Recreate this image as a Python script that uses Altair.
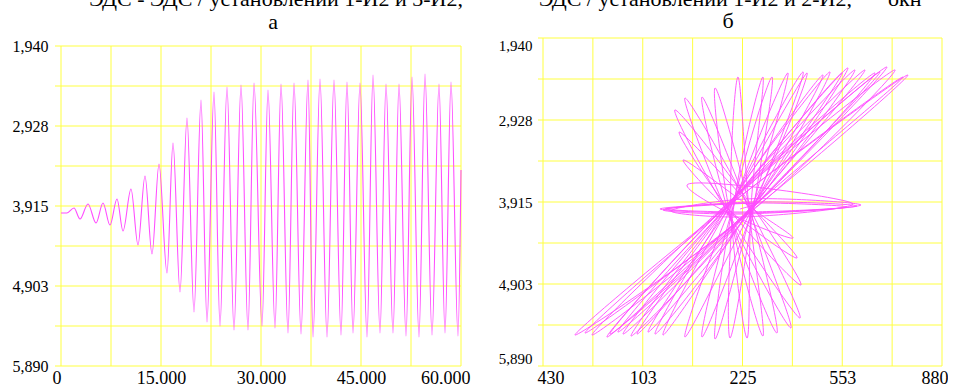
import altair as alt
import pandas as pd

# ---------------- data ----------------
# panel "а": time series (turning points)
time_a = [0, 900, 1950, 2850, 4050, 5250, 6300, 7350, 8400, 9300, 10500, 11550,
          12600, 13650, 14700, 15900, 16800, 17850, 18900, 19950, 21000, 21900,
          22950, 23850, 24900, 25950, 27000, 28050, 28950, 30150, 31050, 32100,
          33000, 34050, 34950, 36000, 37050, 37800, 38850, 39900, 40950, 42000,
          42900, 43800, 44850, 45900, 46800, 47850, 48750, 49800, 50700, 51750,
          52650, 53700, 54600, 55650, 56700, 57600, 58500, 59550, 60000]
value_a = [4001, 4001, 3940, 4076, 3890, 4125, 3878, 4150, 3829, 4224, 3705, 4396,
           3545, 4508, 3397, 4742, 3137, 4977, 2829, 5223, 2607, 5347,
           2508, 5396, 2446, 5446, 2421, 5446, 2397, 5396, 2483, 5421,
           2409, 5483, 2397, 5495, 2360, 5532, 2347, 5532, 2360, 5507,
           2384, 5483, 2397, 5532, 2298, 5483, 2409, 5483, 2409, 5520,
           2323, 5532, 2286, 5507, 2409, 5483, 2384, 5520, 3471]

# panel "б": phase trajectory (loop tips and mid points, in path order)
phase_x = [217,
           266, -29, 233, 568,
           259, -46, 227, 601,
           250, -36, 217, 614,
           233, -10, 207, 588,
           43, 171, 391, 263,
           30, 177, 404, 256,
           17, 177, 417, 256,
           3, 171, 414, 246,
           36, 174, 384, 246,
           92, 181, 338, 253,
           135, 181, 292, 246,
           210, 187, 240, 253,
           292, 197, 184, 263,
           322, 194, 135, 259,
           374, 197, 92, 266,
           424, 191, 36, 263,
           489, 187, -36, 259,
           552, 194, -85, 266,
           571, 187, -121, 259,
           627, 187, -167, 263,
           676, 191, -184, 266,
           699, 187, -220, 263,
           752, 191, -292, 269,
           768, 194, -325, 272,
           726, 181, -269, 259,
           660, 177, -210, 256,
           594, 181, -141, 253,
           512, 181, -62, 253,
           437, 187]
phase_y = [3999,
           3939, 3999, 4035, 3975,
           3927, 3999, 4047, 3963,
           3915, 4011, 4060, 3951,
           3879, 4023, 4096, 3939,
           3710, 4035, 4349, 4011,
           3409, 3999, 4589, 3975,
           3072, 3987, 4915, 3963,
           2807, 4011, 5312, 3975,
           2663, 4035, 5432, 4011,
           2651, 4060, 5493, 4035,
           2542, 4011, 5529, 3987,
           2410, 3963, 5553, 3963,
           2410, 3951, 5553, 3951,
           2410, 3963, 5565, 3963,
           2361, 3951, 5541, 3951,
           2349, 3939, 5541, 3951,
           2386, 3939, 5517, 3963,
           2361, 3927, 5481, 3951,
           2301, 3927, 5505, 3951,
           2325, 3915, 5505, 3963,
           2349, 3915, 5481, 3963,
           2289, 3903, 5541, 3963,
           2410, 3927, 5493, 3975,
           2386, 3915, 5517, 3975,
           2325, 3915, 5517, 3975,
           2361, 3927, 5505, 3963,
           2325, 3939, 5529, 3975,
           2349, 3939, 5505, 3963,
           2361, 3951]

# axes
y_ticks = [1940, 2433.75, 2927.5, 3421.25, 3915, 4408.75, 4902.5, 5396.25, 5890]
y_labels = ["1,940", "", "2,928", "", "3,915", "", "4,903", "", "5,890"]
xa_ticks = [0, 7500, 15000, 22500, 30000, 37500, 45000, 52500, 60000]
xa_labels = ["0", "", "15,000", "", "30,000", "", "45,000", "", "60,000"]
xb_ticks = [-430, -266.25, -102.5, 61.25, 225, 388.75, 552.5, 716.25, 880]
xb_labels = ["430", "", "103", "", "225", "", "553", "", "880"]

titles = ["а", "б"]
top_texts = ["ЭДС - ЭДС / установлении 1-И2 и 3-И2,",
             "ЭДС / установлении 1-И2 и 2-И2,",
             "окн"]

# ---------------- styling ----------------
GRID = "#ffff40"
LINE = "#ff4dff"
FONT = "Liberation Serif"


def label_expr(ticks, labels):
    arr_t = "[" + ",".join(repr(float(t)) for t in ticks) + "]"
    arr_l = "[" + ",".join("'" + s + "'" for s in labels) + "]"
    return f"{arr_l}[indexof({arr_t}, datum.value)]"


def y_axis(size, pad, flush):
    return alt.Axis(values=y_ticks, labelExpr=label_expr(y_ticks, y_labels),
                    title=None, grid=False, domain=False, ticks=False,
                    labelFont=FONT, labelFontSize=size, labelColor="black",
                    labelPadding=pad, labelOverlap=False, labelFlush=flush)


def x_axis(ticks, labels, flush_off):
    return alt.Axis(values=ticks, labelExpr=label_expr(ticks, labels),
                    title=None, grid=False, domain=False, ticks=False,
                    labelFont=FONT, labelFontSize=18, labelColor="black",
                    labelPadding=3, labelOverlap=False, labelAngle=0,
                    labelFlush=True, labelFlushOffset=flush_off)


def txt(s, x, y, size=22, align="left"):
    return alt.Chart(pd.DataFrame({"s": [s]})).mark_text(
        align=align, baseline="alphabetic", font=FONT, fontSize=size, color="black"
    ).encode(text="s:N", x=alt.value(x), y=alt.value(y))


def grid_layers(xticks, xfield, yfield, xlo, xhi, w, tick):
    v = alt.Chart(pd.DataFrame({xfield: xticks})).mark_rule(color=GRID, strokeWidth=1).encode(
        x=alt.X(f"{xfield}:Q"), y=alt.datum(y_ticks[0]), y2=alt.datum(y_ticks[-1]))
    h = alt.Chart(pd.DataFrame({yfield: y_ticks})).mark_rule(color=GRID, strokeWidth=1).encode(
        y=alt.Y(f"{yfield}:Q"), x=alt.value(-tick), x2=alt.value(w))
    return [v, h]


df_a = pd.DataFrame({"t": time_a, "v": value_a})
df_b = pd.DataFrame({"x": phase_x, "y": phase_y, "i": list(range(len(phase_x)))})

scale_xa = alt.Scale(domain=[0, 60000], nice=False, zero=False)
scale_ya = alt.Scale(domain=[1841.25, 5890], nice=False, zero=False, reverse=True)
scale_xb = alt.Scale(domain=[-430, 880], nice=False, zero=False)
scale_yb = alt.Scale(domain=[1940, 5890], nice=False, zero=False, reverse=True)

line_a = alt.Chart(df_a).mark_line(interpolate="monotone", color=LINE, strokeWidth=1.1).encode(
    x=alt.X("t:Q", scale=scale_xa, axis=x_axis(xa_ticks, xa_labels, 9)),
    y=alt.Y("v:Q", scale=scale_ya, axis=y_axis(16, 13, False)),
)
left = alt.layer(
    *grid_layers(xa_ticks, "t", "v", 0, 60000, 400, 6),
    line_a,
    txt(titles[0], 212, -9, 22, "center"),
    txt(top_texts[0], 402, -32, 22, "right"),
).properties(width=400, height=328)

line_b = alt.Chart(df_b).mark_line(interpolate="catmull-rom", color=LINE, strokeWidth=1,
                                   opacity=0.9).encode(
    x=alt.X("x:Q", scale=scale_xb, axis=x_axis(xb_ticks, xb_labels, 6)),
    y=alt.Y("y:Q", scale=scale_yb, axis=y_axis(15, 11, True)),
    order="i:Q",
)
right = alt.layer(
    *grid_layers(xb_ticks, "x", "y", -430, 880, 399, 5),
    line_b,
    txt(titles[1], 185, -10, 22, "center"),
    txt(top_texts[1], 309, -32, 22, "right"),
    txt(top_texts[2], 345, -32),
).properties(width=399, height=328)

chart = alt.hconcat(left, right, spacing=28).properties(
    padding={"left": 12, "top": -12, "right": 0, "bottom": -3},
    background="white",
).configure_view(stroke=None)

chart.save("out.html", embed_options={"renderer": "svg", "actions": False})
